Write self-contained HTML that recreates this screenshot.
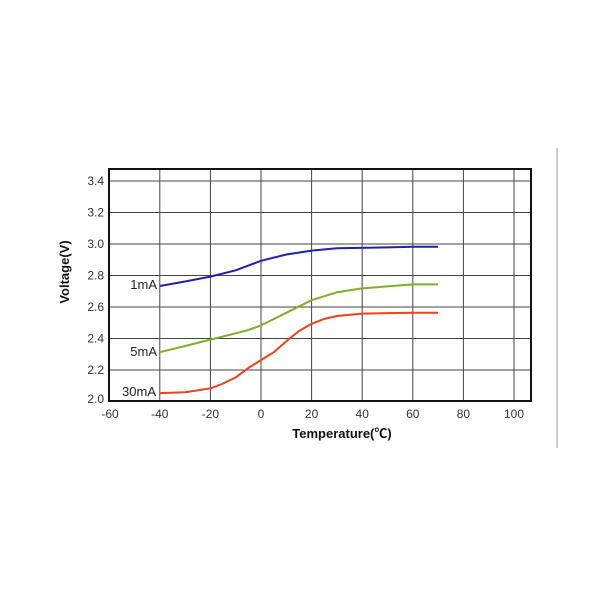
<!DOCTYPE html>
<html><head><meta charset="utf-8"><style>body{margin:0;background:#fff}</style></head><body>
<svg width="600" height="600" xmlns="http://www.w3.org/2000/svg" font-family="Liberation Sans, Noto Sans CJK SC, sans-serif">
<rect width="600" height="600" fill="#fff"/>
<line x1="557" y1="148" x2="557" y2="448" stroke="#999" stroke-width="1"/>
<g stroke="#444" stroke-width="1">
<line x1="159.8" y1="169" x2="159.8" y2="401"/><line x1="210.4" y1="169" x2="210.4" y2="401"/>
<line x1="261" y1="169" x2="261" y2="401"/><line x1="311.6" y1="169" x2="311.6" y2="401"/>
<line x1="362.2" y1="169" x2="362.2" y2="401"/><line x1="412.8" y1="169" x2="412.8" y2="401"/>
<line x1="463.4" y1="169" x2="463.4" y2="401"/><line x1="514" y1="169" x2="514" y2="401"/>
<line x1="109" y1="181" x2="531" y2="181"/><line x1="109" y1="212.5" x2="531" y2="212.5"/>
<line x1="109" y1="244" x2="531" y2="244"/><line x1="109" y1="275.5" x2="531" y2="275.5"/>
<line x1="109" y1="307" x2="531" y2="307"/><line x1="109" y1="338.5" x2="531" y2="338.5"/>
<line x1="109" y1="370" x2="531" y2="370"/>
</g>
<rect x="109" y="169" width="422" height="232" fill="none" stroke="#111" stroke-width="2"/>
<g font-size="12" fill="#333" text-anchor="end">
<text x="104" y="185">3.4</text><text x="104" y="216.5">3.2</text><text x="104" y="248">3.0</text>
<text x="104" y="279.5">2.8</text><text x="104" y="311">2.6</text><text x="104" y="342.5">2.4</text>
<text x="104" y="374">2.2</text><text x="104" y="403">2.0</text>
</g>
<g font-size="12" fill="#333" text-anchor="middle">
<text x="110" y="418">-60</text><text x="159.8" y="418">-40</text><text x="210.4" y="418">-20</text>
<text x="261" y="418">0</text><text x="311.6" y="418">20</text><text x="362.2" y="418">40</text>
<text x="412.8" y="418">60</text><text x="463.4" y="418">80</text><text x="514" y="418">100</text>
</g>
<text x="342" y="438" font-size="13" font-weight="bold" text-anchor="middle" fill="#111">Temperature(℃)</text>
<text transform="translate(69,272) rotate(-90)" font-size="13" font-weight="bold" text-anchor="middle" fill="#111">Voltage(V)</text>
<g font-size="13" fill="#222" text-anchor="end">
<text x="157" y="289">1mA</text><text x="157" y="356">5mA</text><text x="156" y="396">30mA</text>
</g>
<g fill="none" stroke-width="2" stroke-linejoin="round">
<polyline stroke="#1f1fb0" points="159.8,286 185.1,281.5 210.4,276.6 235.7,270.3 261,260.8 286.3,254.5 311.6,250.6 336.9,248.2 387.5,247.4 412.8,246.7 438.1,246.7"/>
<polyline stroke="#7fae2a" points="159.8,352.2 185.1,346 210.4,339.6 235.7,333.3 248.4,330 261,325.4 286.3,312.8 311.6,300.2 336.9,292.3 362.2,288.4 412.8,284.4 438.1,284.4"/>
<polyline stroke="#f0401c" points="159.8,393.1 185.1,392.3 210.4,388.4 222,384 235.7,377.4 248.4,367.9 261,360.1 273.7,352.2 286.3,341.2 299,331 311.6,323.8 324,319 336.9,316 362.2,313.6 412.8,312.8 438.1,312.8"/>
</g>
</svg>
</body></html>
